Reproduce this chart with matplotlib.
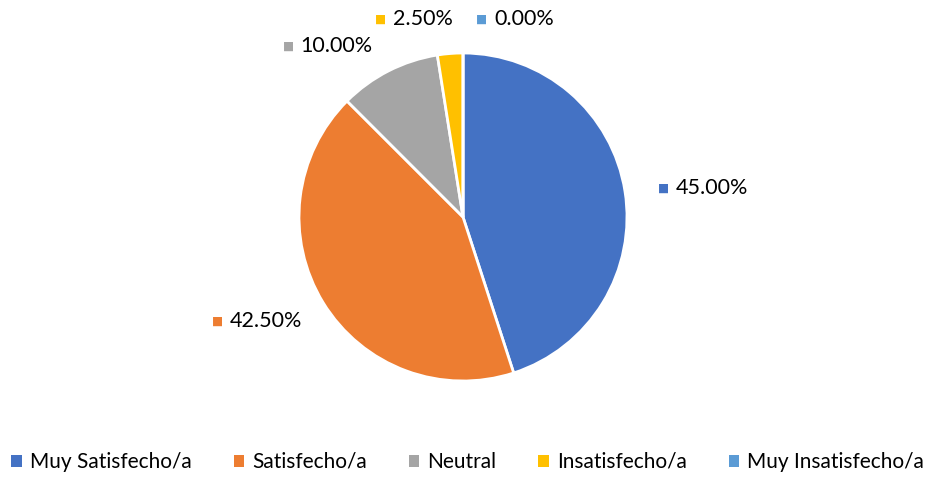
import numpy as np
import matplotlib.pyplot as plt
from matplotlib.patches import Patch

categorias = ['Muy Satisfecho/a', 'Satisfecho/a', 'Neutral', 'Insatisfecho/a', 'Muy Insatisfecho/a']
valores = [45.0, 42.5, 10.0, 2.5, 0.0]
colores = ['#4472C4', '#ED7D31', '#A5A5A5', '#FFC000', '#5B9BD5']
# posición de cada etiqueta (relativa al centro, en radios)
pos_etiquetas = [(1.19, 0.177), (-1.53, -0.634), (-1.10, 1.04), (-0.535, 1.207), (0.08, 1.207)]

plt.rcParams['font.family'] = ['Lato', 'DejaVu Sans']

fig = plt.figure(figsize=(9.3, 4.78), dpi=100)
cx, cy, r = 463, 217, 164
ax = fig.add_axes([(cx - r) / 930, (478 - cy - r) / 478, 2 * r / 930, 2 * r / 478])
ax.pie(valores, colors=colores, startangle=90, counterclock=False,
       wedgeprops=dict(edgecolor='white', linewidth=2), radius=1)
ax.set_xlim(-1, 1)
ax.set_ylim(-1, 1)
ax.set_aspect('auto')
ax.axis('off')

for v, c, (px, py) in zip(valores, colores, pos_etiquetas):
    ax.text(px, py, '■', color=c, fontsize=8.5, va='center', ha='left', clip_on=False)
    ax.text(px + 0.11, py, '%.2f%%' % v, color='#000000', fontsize=15.5,
            va='center', ha='left', clip_on=False)

handles = [Patch(facecolor=c, edgecolor='none') for c in colores]
fig.legend(handles, categorias, loc='center', bbox_to_anchor=(0.503, 1 - 462 / 478),
           ncol=5, frameon=False, fontsize=15, handlelength=0.5, handleheight=0.5,
           handletextpad=0.4, columnspacing=2.0)

plt.savefig('out.png', dpi=100)
